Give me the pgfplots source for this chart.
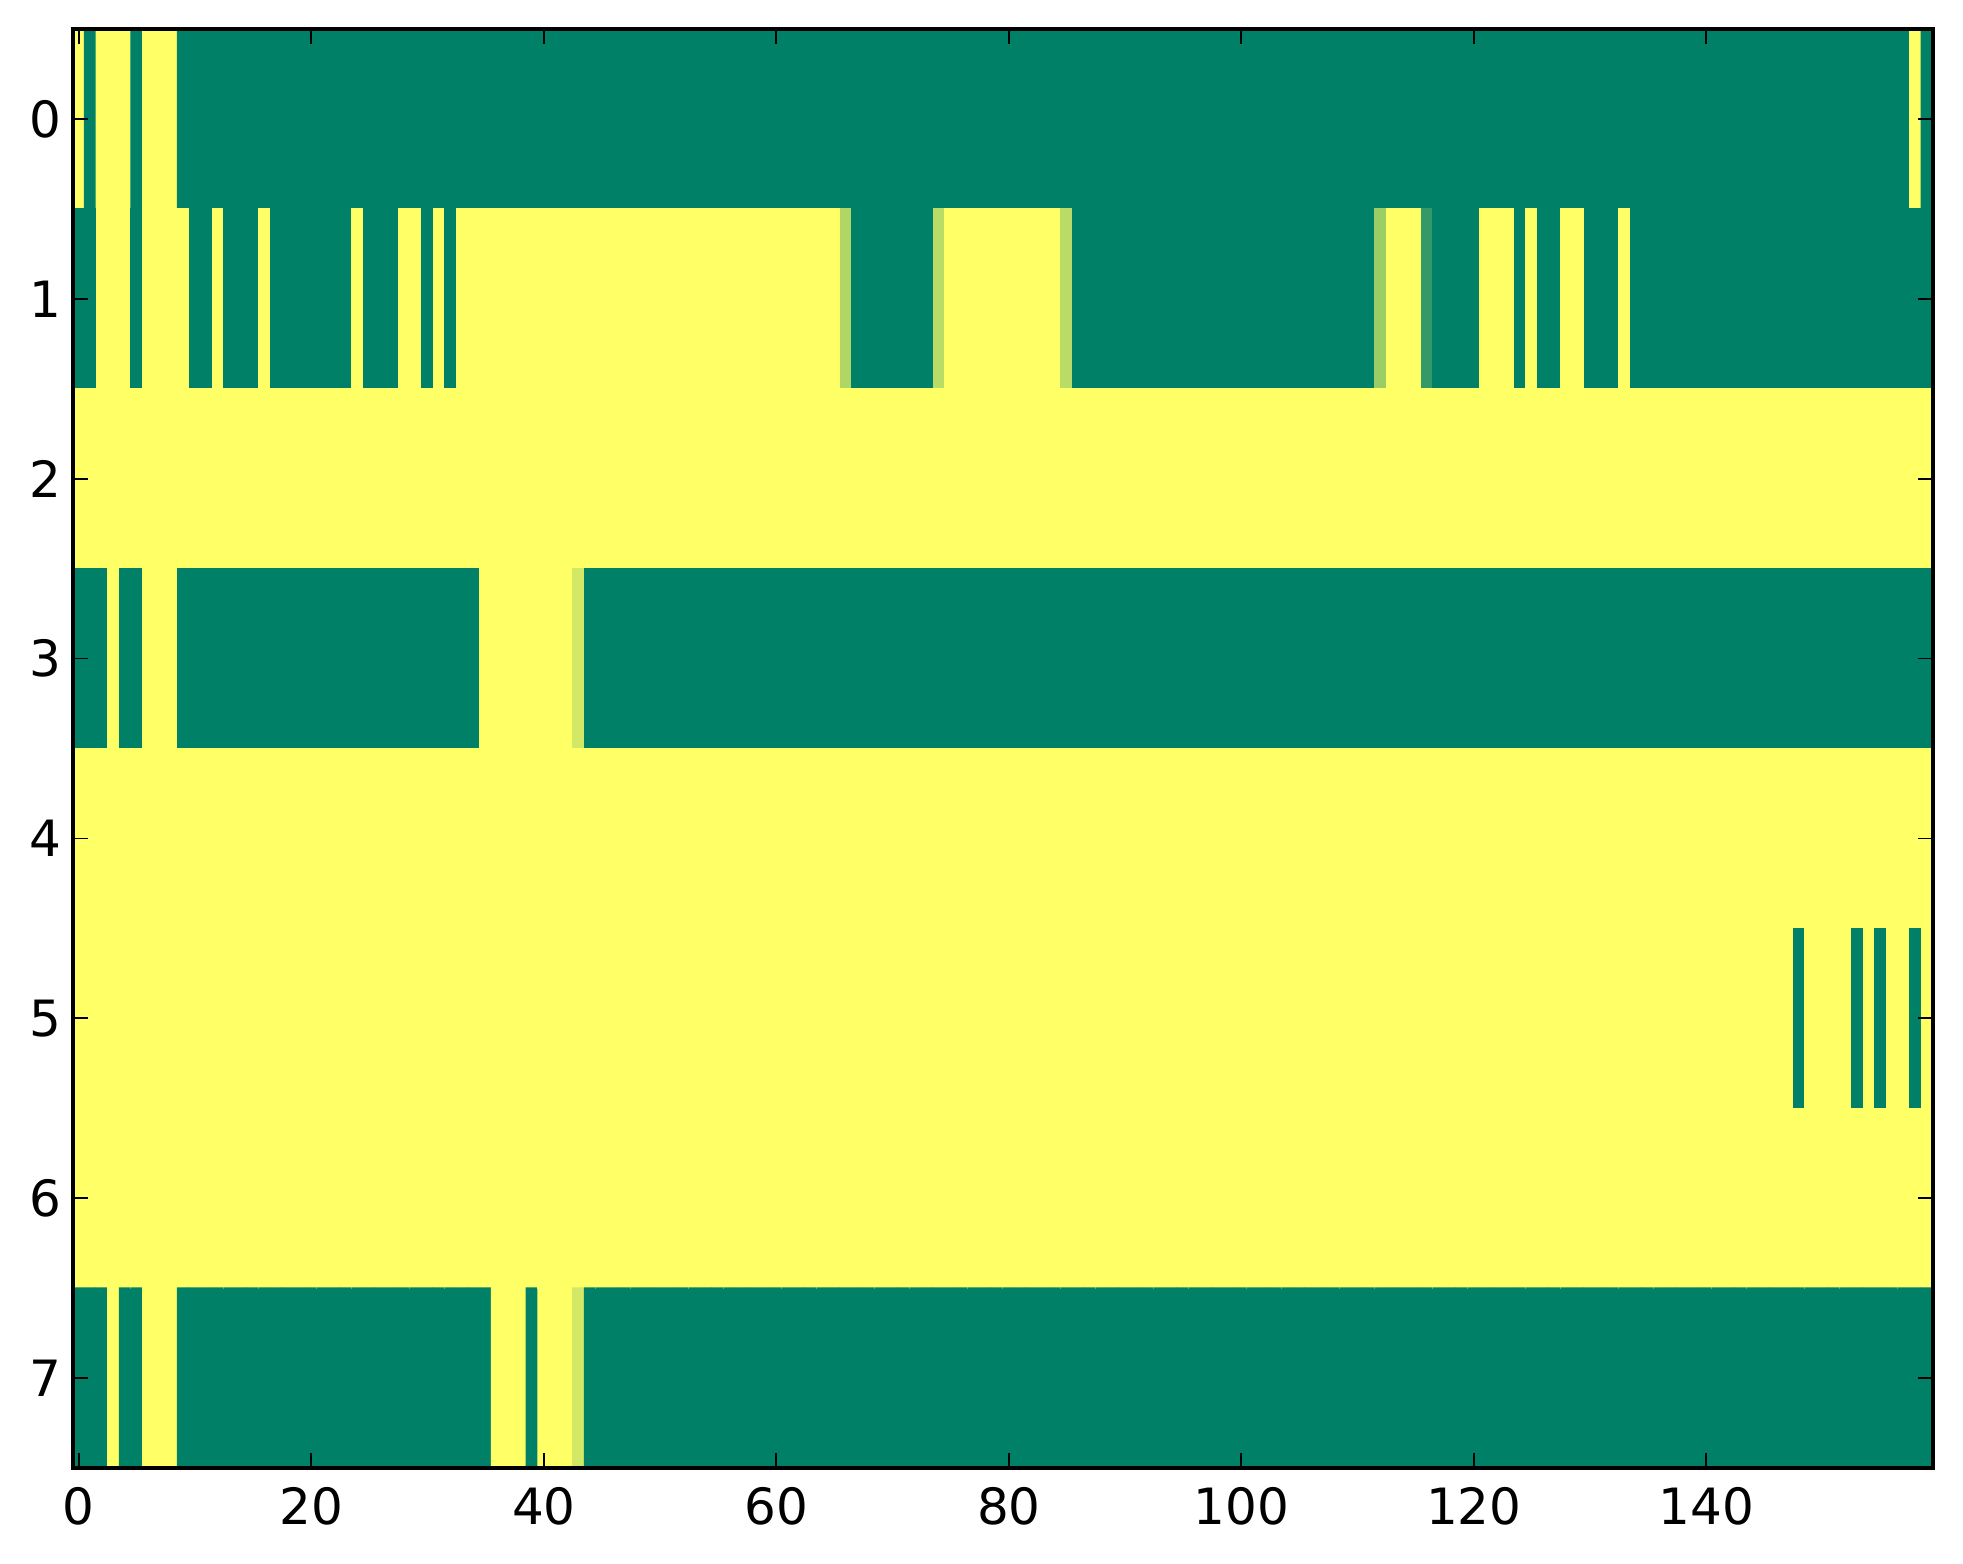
\documentclass[border=0pt]{standalone}
\usepackage{fontspec}
\setmainfont{DejaVu Sans}
\usepackage{pgfplots}
\pgfplotsset{compat=1.18}
\begin{document}
\fontsize{15}{18}\selectfont
\begin{tikzpicture}
\begin{axis}[
  scale only axis, width=558pt, height=431.7pt,
  xmin=-0.5, xmax=159.5, ymin=-0.5, ymax=7.5, y dir=reverse,
  axis line style={line width=1.2pt},
  tick align=inside,
  major tick length=4.5pt,
  tick style={line width=0.5pt, black},
  xtick={0,20,...,140}, ytick={0,1,...,7},
  minor tick num=0,
  colormap={summer}{rgb=(0,0.5,0.4) rgb=(1,1,0.4)},
  point meta min=0, point meta max=1,
  ticklabel style={font=\fontsize{15}{18}\selectfont},
  yticklabel style={xshift=1.6pt},
  xticklabel style={yshift=-0.6pt},
  /pgf/number format/assume math mode=true,
  axis on top,
]
\addplot[matrix plot*, mesh/cols=160, point meta=explicit]
 table[row sep=\\, x expr={mod(\coordindex,160)}, y expr={floor(\coordindex/160)}, meta=c] {
c\\
1\\0\\1\\1\\1\\ 0\\1\\1\\1\\0\\ 0\\0\\0\\0\\0\\ 0\\0\\0\\0\\0\\
0\\0\\0\\0\\0\\ 0\\0\\0\\0\\0\\ 0\\0\\0\\0\\0\\ 0\\0\\0\\0\\0\\
0\\0\\0\\0\\0\\ 0\\0\\0\\0\\0\\ 0\\0\\0\\0\\0\\ 0\\0\\0\\0\\0\\
0\\0\\0\\0\\0\\ 0\\0\\0\\0\\0\\ 0\\0\\0\\0\\0\\ 0\\0\\0\\0\\0\\
0\\0\\0\\0\\0\\ 0\\0\\0\\0\\0\\ 0\\0\\0\\0\\0\\ 0\\0\\0\\0\\0\\
0\\0\\0\\0\\0\\ 0\\0\\0\\0\\0\\ 0\\0\\0\\0\\0\\ 0\\0\\0\\0\\0\\
0\\0\\0\\0\\0\\ 0\\0\\0\\0\\0\\ 0\\0\\0\\0\\0\\ 0\\0\\0\\0\\0\\
0\\0\\0\\0\\0\\ 0\\0\\0\\0\\0\\ 0\\0\\0\\0\\0\\ 0\\0\\0\\1\\0\\
0\\0\\1\\1\\1\\ 0\\1\\1\\1\\1\\ 0\\0\\1\\0\\0\\ 0\\1\\0\\0\\0\\
0\\0\\0\\0\\1\\ 0\\0\\0\\1\\1\\ 0\\1\\0\\1\\1\\ 1\\1\\1\\1\\1\\
1\\1\\1\\1\\1\\ 1\\1\\1\\1\\1\\ 1\\1\\1\\1\\1\\ 1\\1\\1\\1\\1\\
1\\1\\1\\1\\1\\ 1\\0.68\\0\\0\\0\\ 0\\0\\0\\0\\0.72\\ 1\\1\\1\\1\\1\\
1\\1\\1\\1\\1\\ 0.72\\0\\0\\0\\0\\ 0\\0\\0\\0\\0\\ 0\\0\\0\\0\\0\\
0\\0\\0\\0\\0\\ 0\\0\\0\\0\\0\\ 0\\0\\0.6\\1\\1\\ 1\\0.2\\0\\0\\0\\
0\\1\\1\\1\\0\\ 1\\0\\0\\1\\1\\ 0\\0\\0\\1\\0\\ 0\\0\\0\\0\\0\\
0\\0\\0\\0\\0\\ 0\\0\\0\\0\\0\\ 0\\0\\0\\0\\0\\ 0\\0\\0\\0\\0\\
1\\1\\1\\1\\1\\ 1\\1\\1\\1\\1\\ 1\\1\\1\\1\\1\\ 1\\1\\1\\1\\1\\
1\\1\\1\\1\\1\\ 1\\1\\1\\1\\1\\ 1\\1\\1\\1\\1\\ 1\\1\\1\\1\\1\\
1\\1\\1\\1\\1\\ 1\\1\\1\\1\\1\\ 1\\1\\1\\1\\1\\ 1\\1\\1\\1\\1\\
1\\1\\1\\1\\1\\ 1\\1\\1\\1\\1\\ 1\\1\\1\\1\\1\\ 1\\1\\1\\1\\1\\
1\\1\\1\\1\\1\\ 1\\1\\1\\1\\1\\ 1\\1\\1\\1\\1\\ 1\\1\\1\\1\\1\\
1\\1\\1\\1\\1\\ 1\\1\\1\\1\\1\\ 1\\1\\1\\1\\1\\ 1\\1\\1\\1\\1\\
1\\1\\1\\1\\1\\ 1\\1\\1\\1\\1\\ 1\\1\\1\\1\\1\\ 1\\1\\1\\1\\1\\
1\\1\\1\\1\\1\\ 1\\1\\1\\1\\1\\ 1\\1\\1\\1\\1\\ 1\\1\\1\\1\\1\\
0\\0\\0\\1\\0\\ 0\\1\\1\\1\\0\\ 0\\0\\0\\0\\0\\ 0\\0\\0\\0\\0\\
0\\0\\0\\0\\0\\ 0\\0\\0\\0\\0\\ 0\\0\\0\\0\\0\\ 1\\1\\1\\1\\1\\
1\\1\\1\\0.82\\0\\ 0\\0\\0\\0\\0\\ 0\\0\\0\\0\\0\\ 0\\0\\0\\0\\0\\
0\\0\\0\\0\\0\\ 0\\0\\0\\0\\0\\ 0\\0\\0\\0\\0\\ 0\\0\\0\\0\\0\\
0\\0\\0\\0\\0\\ 0\\0\\0\\0\\0\\ 0\\0\\0\\0\\0\\ 0\\0\\0\\0\\0\\
0\\0\\0\\0\\0\\ 0\\0\\0\\0\\0\\ 0\\0\\0\\0\\0\\ 0\\0\\0\\0\\0\\
0\\0\\0\\0\\0\\ 0\\0\\0\\0\\0\\ 0\\0\\0\\0\\0\\ 0\\0\\0\\0\\0\\
0\\0\\0\\0\\0\\ 0\\0\\0\\0\\0\\ 0\\0\\0\\0\\0\\ 0\\0\\0\\0\\0\\
1\\1\\1\\1\\1\\ 1\\1\\1\\1\\1\\ 1\\1\\1\\1\\1\\ 1\\1\\1\\1\\1\\
1\\1\\1\\1\\1\\ 1\\1\\1\\1\\1\\ 1\\1\\1\\1\\1\\ 1\\1\\1\\1\\1\\
1\\1\\1\\1\\1\\ 1\\1\\1\\1\\1\\ 1\\1\\1\\1\\1\\ 1\\1\\1\\1\\1\\
1\\1\\1\\1\\1\\ 1\\1\\1\\1\\1\\ 1\\1\\1\\1\\1\\ 1\\1\\1\\1\\1\\
1\\1\\1\\1\\1\\ 1\\1\\1\\1\\1\\ 1\\1\\1\\1\\1\\ 1\\1\\1\\1\\1\\
1\\1\\1\\1\\1\\ 1\\1\\1\\1\\1\\ 1\\1\\1\\1\\1\\ 1\\1\\1\\1\\1\\
1\\1\\1\\1\\1\\ 1\\1\\1\\1\\1\\ 1\\1\\1\\1\\1\\ 1\\1\\1\\1\\1\\
1\\1\\1\\1\\1\\ 1\\1\\1\\1\\1\\ 1\\1\\1\\1\\1\\ 1\\1\\1\\1\\1\\
1\\1\\1\\1\\1\\ 1\\1\\1\\1\\1\\ 1\\1\\1\\1\\1\\ 1\\1\\1\\1\\1\\
1\\1\\1\\1\\1\\ 1\\1\\1\\1\\1\\ 1\\1\\1\\1\\1\\ 1\\1\\1\\1\\1\\
1\\1\\1\\1\\1\\ 1\\1\\1\\1\\1\\ 1\\1\\1\\1\\1\\ 1\\1\\1\\1\\1\\
1\\1\\1\\1\\1\\ 1\\1\\1\\1\\1\\ 1\\1\\1\\1\\1\\ 1\\1\\1\\1\\1\\
1\\1\\1\\1\\1\\ 1\\1\\1\\1\\1\\ 1\\1\\1\\1\\1\\ 1\\1\\1\\1\\1\\
1\\1\\1\\1\\1\\ 1\\1\\1\\1\\1\\ 1\\1\\1\\1\\1\\ 1\\1\\1\\1\\1\\
1\\1\\1\\1\\1\\ 1\\1\\1\\1\\1\\ 1\\1\\1\\1\\1\\ 1\\1\\1\\1\\1\\
1\\1\\1\\1\\1\\ 1\\1\\1\\0\\1\\ 1\\1\\1\\0\\1\\ 0\\1\\1\\0\\1\\
1\\1\\1\\1\\1\\ 1\\1\\1\\1\\1\\ 1\\1\\1\\1\\1\\ 1\\1\\1\\1\\1\\
1\\1\\1\\1\\1\\ 1\\1\\1\\1\\1\\ 1\\1\\1\\1\\1\\ 1\\1\\1\\1\\1\\
1\\1\\1\\1\\1\\ 1\\1\\1\\1\\1\\ 1\\1\\1\\1\\1\\ 1\\1\\1\\1\\1\\
1\\1\\1\\1\\1\\ 1\\1\\1\\1\\1\\ 1\\1\\1\\1\\1\\ 1\\1\\1\\1\\1\\
1\\1\\1\\1\\1\\ 1\\1\\1\\1\\1\\ 1\\1\\1\\1\\1\\ 1\\1\\1\\1\\1\\
1\\1\\1\\1\\1\\ 1\\1\\1\\1\\1\\ 1\\1\\1\\1\\1\\ 1\\1\\1\\1\\1\\
1\\1\\1\\1\\1\\ 1\\1\\1\\1\\1\\ 1\\1\\1\\1\\1\\ 1\\1\\1\\1\\1\\
1\\1\\1\\1\\1\\ 1\\1\\1\\1\\1\\ 1\\1\\1\\1\\1\\ 1\\1\\1\\1\\1\\
0\\0\\0\\1\\0\\ 0\\1\\1\\1\\0\\ 0\\0\\0\\0\\0\\ 0\\0\\0\\0\\0\\
0\\0\\0\\0\\0\\ 0\\0\\0\\0\\0\\ 0\\0\\0\\0\\0\\ 0\\1\\1\\1\\0\\
1\\1\\1\\0.82\\0\\ 0\\0\\0\\0\\0\\ 0\\0\\0\\0\\0\\ 0\\0\\0\\0\\0\\
0\\0\\0\\0\\0\\ 0\\0\\0\\0\\0\\ 0\\0\\0\\0\\0\\ 0\\0\\0\\0\\0\\
0\\0\\0\\0\\0\\ 0\\0\\0\\0\\0\\ 0\\0\\0\\0\\0\\ 0\\0\\0\\0\\0\\
0\\0\\0\\0\\0\\ 0\\0\\0\\0\\0\\ 0\\0\\0\\0\\0\\ 0\\0\\0\\0\\0\\
0\\0\\0\\0\\0\\ 0\\0\\0\\0\\0\\ 0\\0\\0\\0\\0\\ 0\\0\\0\\0\\0\\
0\\0\\0\\0\\0\\ 0\\0\\0\\0\\0\\ 0\\0\\0\\0\\0\\ 0\\0\\0\\0\\0\\
};
\end{axis}
\pgfresetboundingbox
\path[use as bounding box] ([xshift=-21.9pt,yshift=-28.8pt]current axis.south west) rectangle ([xshift=9pt,yshift=8.7pt]current axis.north east);
\end{tikzpicture}
\end{document}
